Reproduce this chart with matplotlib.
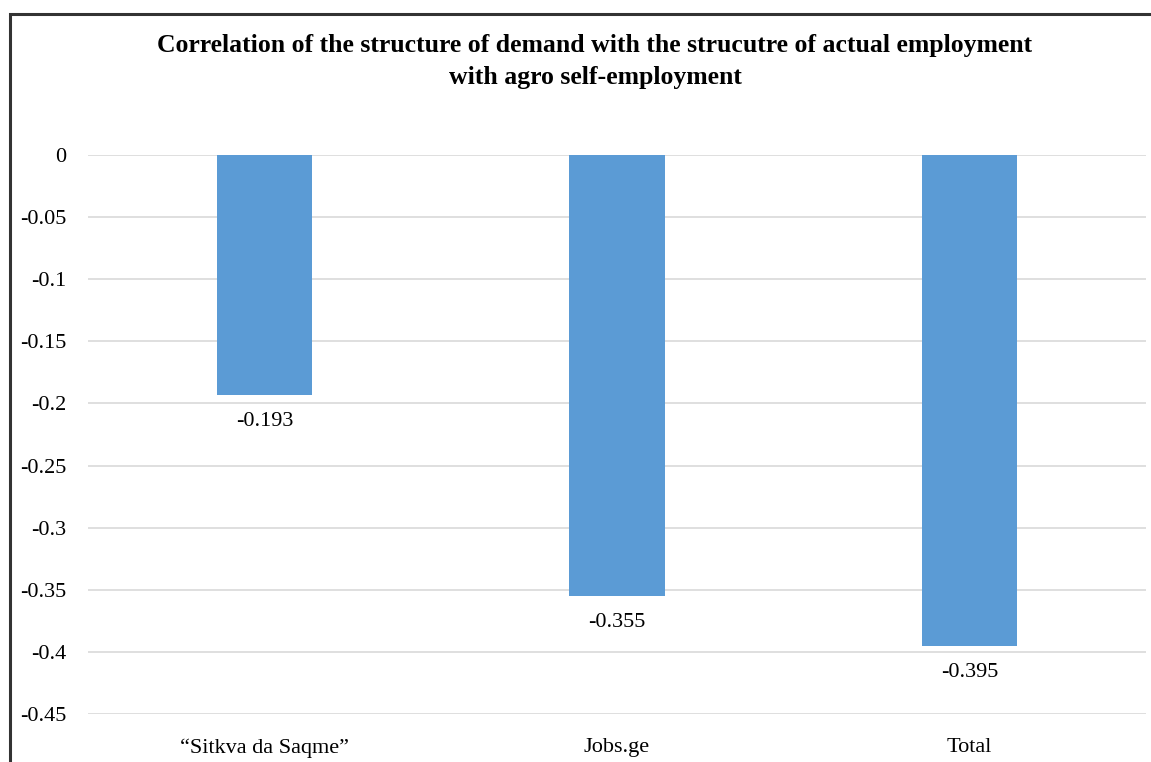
import matplotlib
matplotlib.use("Agg")
import matplotlib.pyplot as plt
from matplotlib.patches import Rectangle

categories = ["\u201cSitkva da Saqme\u201d", "Jobs.ge", "Total"]
values = [-0.193, -0.355, -0.395]
value_labels = ["-0.193", "-0.355", "-0.395"]
yticks = [0, -0.05, -0.1, -0.15, -0.2, -0.25, -0.3, -0.35, -0.4, -0.45]
ytick_labels = ["0", "-0.05", "-0.1", "-0.15", "-0.2", "-0.25", "-0.3", "-0.35", "-0.4", "-0.45"]
title = "Correlation of the structure of demand with the strucutre of actual employment\nwith agro self-employment"

W, H = 1151, 762
fig = plt.figure(figsize=(W / 100, H / 100), dpi=100)
serif = ["Liberation Serif", "DejaVu Serif"]
fs = 16

ax = fig.add_axes([88 / W, 1 - 714 / H, (1146 - 88) / W, (714 - 155) / H])
x = list(range(len(categories)))
ax.bar(x, values, width=0.27, color="#5B9BD5", zorder=3)
ax.set_xlim(-0.5, len(categories) - 0.5)
ax.set_ylim(-0.45, 0)
ax.set_yticks(yticks)
ax.set_yticklabels(ytick_labels, fontfamily=serif, fontsize=fs)
ax.set_xticks(x)
ax.set_xticklabels(categories, fontfamily=serif, fontsize=fs)
ax.tick_params(axis="y", length=0, pad=15.5)
ax.tick_params(axis="x", length=0, pad=17.5)
for s in ax.spines.values():
    s.set_visible(False)
ax.yaxis.grid(True, color="#d9d9d9", linewidth=1.2, zorder=0)
ax.xaxis.grid(False)

for xi, v, lab in zip(x, values, value_labels):
    ax.annotate(lab, (xi, v), xytext=(0, -19), textcoords="offset points",
                ha="center", va="center", fontfamily=serif, fontsize=fs)

fig.text(595 / W, 1 - 61.5 / H, title, ha="center", va="center", fontfamily=serif,
         fontsize=18.5, fontweight="bold", linespacing=1.45)

frame = Rectangle((10 / W, -0.1), (1160 - 10) / W, 1 - 14 / H + 0.1, transform=fig.transFigure,
                  fill=False, edgecolor="#333333", linewidth=2.2)
fig.patches.append(frame)

fig.savefig("out.png", dpi=100)
